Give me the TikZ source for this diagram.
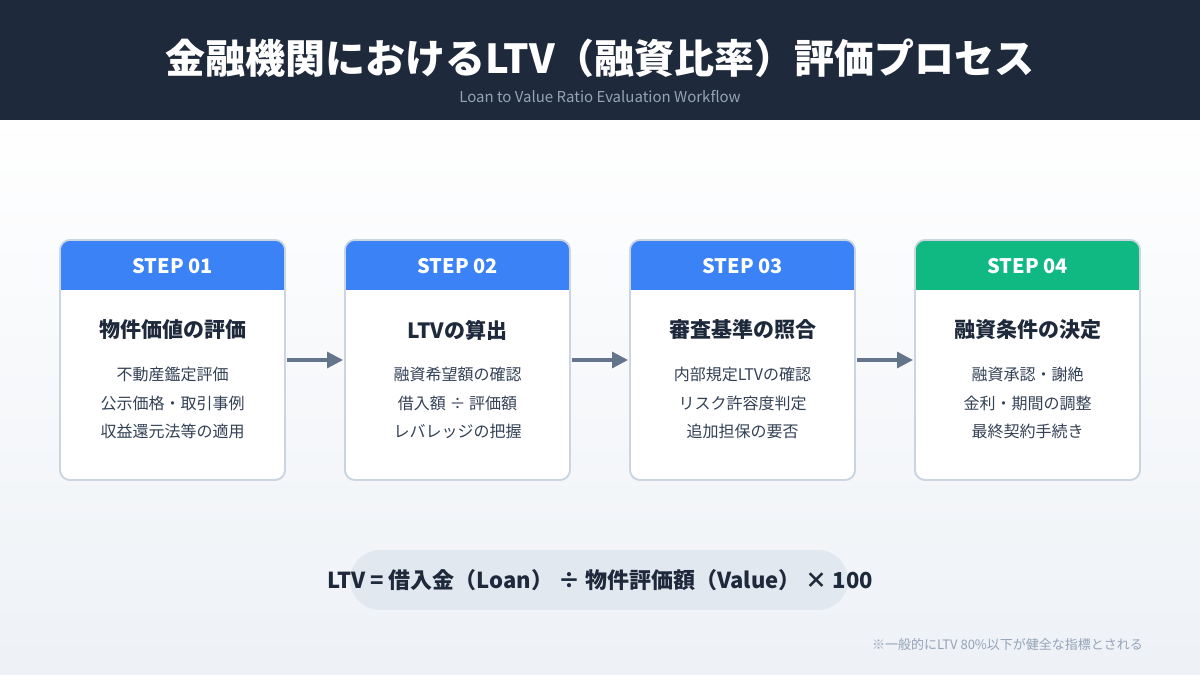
\documentclass[tikz,border=0pt]{standalone}
\usepackage{fontspec}
\setmainfont{Noto Sans CJK JP}
\usetikzlibrary{arrows.meta}
\definecolor{navy}{HTML}{1E293B}
\definecolor{blu}{HTML}{3B82F6}
\definecolor{grn}{HTML}{10B981}
\definecolor{bord}{HTML}{CBD5E1}
\definecolor{txt}{HTML}{334155}
\definecolor{arr}{HTML}{64748B}
\definecolor{pill}{HTML}{E2E8F0}
\definecolor{foot}{HTML}{94A3B8}
\tikzset{
 card/.style={draw=bord,line width=0.8pt,fill=white,rounded corners=5pt},
 ctitle/.style={font=\fontsize{10.5}{12}\selectfont\bfseries,text=navy},
 cline/.style={font=\fontsize{8}{10}\selectfont,text=txt},
 hlab/.style={font=\fontsize{10}{12}\selectfont\bfseries,text=white},
 flow/.style={-{Triangle[length=8pt,width=8pt]},arr,line width=1.6pt}
}
\begin{document}
\begin{tikzpicture}[x=0.5pt,y=-0.5pt]
\useasboundingbox (0,0) rectangle (1200,675);
\shade[top color=white!97!blue!3,bottom color=pill!60] (0,120) rectangle (1200,675);
\fill[navy] (0,0) rectangle (1200,120);
\node[text=white,font=\fontsize{20}{24}\selectfont\bfseries] (title) at (600,58) {金融機関におけるLTV（融資比率）評価プロセス};
\node[text=foot,font=\fontsize{7.5}{9}\selectfont] (sub) at (600,97) {Loan to Value Ratio Evaluation Workflow};
\foreach \i/\x/\c/\lab/\t/\a/\b/\d in {
 1/60/blu/STEP 01/物件価値の評価/不動産鑑定評価/公示価格・取引事例/収益還元法等の適用,
 2/345/blu/STEP 02/LTVの算出/融資希望額の確認/借入額 ÷ 評価額/レバレッジの把握,
 3/630/blu/STEP 03/審査基準の照合/内部規定LTVの確認/リスク許容度判定/追加担保の要否,
 4/915/grn/STEP 04/融資条件の決定/融資承認・謝絶/金利・期間の調整/最終契約手続き}{
 \draw[card] (\x,240) rectangle ++(225,240);
 \begin{scope}
 \clip[rounded corners=5pt] (\x,240) rectangle ++(225,240);
 \fill[\c] (\x,240) rectangle ++(225,50);
 \end{scope}
 \draw[bord,line width=0.8pt,rounded corners=5pt] (\x,240) rectangle ++(225,240);
 \node[hlab] (h\i) at (\x+112.5,266) {\lab};
 \node[ctitle] (t\i) at (\x+112.5,330) {\t};
 \node[cline] (a\i) at (\x+112.5,374) {\a};
 \node[cline] (b\i) at (\x+112.5,403) {\b};
 \node[cline] (c\i) at (\x+112.5,431) {\d};
 \coordinate (L\i) at (\x-2,360);
 \coordinate (R\i) at (\x+227,360);
}
\draw[flow] (R1) -- (L2);
\draw[flow] (R2) -- (L3);
\draw[flow] (R3) -- (L4);
\fill[pill] (380,550) rectangle (818,610);
\fill[pill] (380,580) circle (30);
\fill[pill] (818,580) circle (30);
\node[text=navy,font=\fontsize{11}{13}\selectfont\bfseries] (f) at (600,580) {LTV = 借入金（Loan） ÷ 物件評価額（Value） × 100};
\node[text=foot,anchor=east,font=\fontsize{6.5}{8}\selectfont] (n) at (1150,645) {※一般的にLTV 80\%以下が健全な指標とされる};
\end{tikzpicture}
\end{document}
